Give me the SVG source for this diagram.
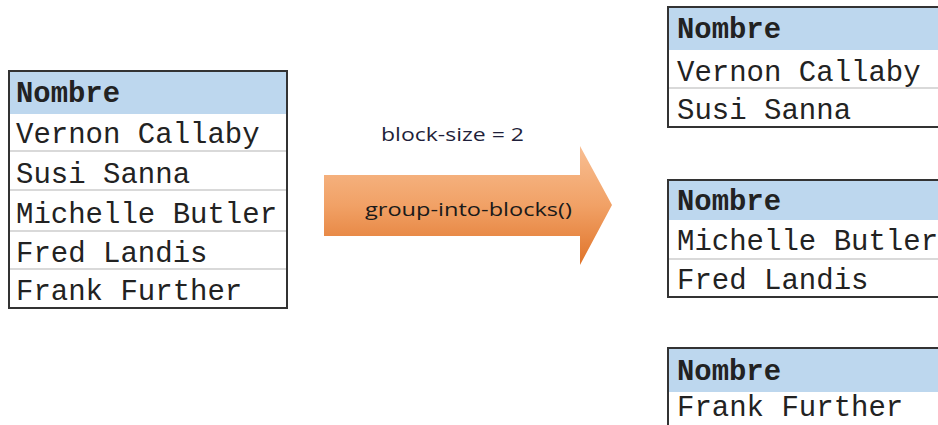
<svg xmlns="http://www.w3.org/2000/svg" width="938" height="425" viewBox="0 0 938 425">
<defs>
<style>
.frame{fill:#ffffff;stroke:#333333;stroke-width:2}
.hdr{fill:#BDD7EE}
.sep{stroke:#d9d9d9;stroke-width:2}
.mono{font-family:"Liberation Mono","Courier New",monospace;font-size:29px;fill:#222222}
.bold{font-weight:bold}
.lbl{font-family:"Open Sans","Liberation Sans",sans-serif;font-size:19px}
</style>
<linearGradient id="og" x1="0" y1="0" x2="0" y2="1">
<stop offset="0" stop-color="#F8BE92"/>
<stop offset="0.5" stop-color="#F1A166"/>
<stop offset="1" stop-color="#E0742A"/>
</linearGradient>
</defs>
<rect width="938" height="425" fill="#ffffff"/>

<g id="table-input">
<rect class="frame" x="9" y="71" width="278" height="237"/>
<rect class="hdr" x="10" y="72" width="276" height="42"/>
<line class="sep" x1="10" y1="151" x2="286" y2="151"/>
<line class="sep" x1="10" y1="190" x2="286" y2="190"/>
<line class="sep" x1="10" y1="231" x2="286" y2="231"/>
<line class="sep" x1="10" y1="269" x2="286" y2="269"/>
<text class="mono bold" x="16" y="102" textLength="104" lengthAdjust="spacingAndGlyphs">Nombre</text>
<text class="mono" x="16" y="143">Vernon Callaby</text>
<text class="mono" x="16" y="183">Susi Sanna</text>
<text class="mono" x="16" y="223">Michelle Butler</text>
<text class="mono" x="16" y="262">Fred Landis</text>
<text class="mono" x="16" y="300">Frank Further</text>
</g>

<g id="connectors">
<path d="M324,175 L580,175 L580,146 L612,205 L580,265 L580,236 L324,236 Z" fill="url(#og)"/>
<text class="lbl" x="381" y="141" fill="#1f1f3a" textLength="143" lengthAdjust="spacingAndGlyphs">block-size = 2</text>
<text class="lbl" x="365" y="216" fill="#1a1a1a" textLength="207" lengthAdjust="spacingAndGlyphs">group-into-blocks()</text>
</g>

<g id="block-1">
<rect class="frame" x="668" y="7" width="290" height="120"/>
<rect class="hdr" x="669" y="8" width="280" height="42"/>
<line class="sep" x1="669" y1="88" x2="938" y2="88"/>
<text class="mono bold" x="677" y="38" textLength="104" lengthAdjust="spacingAndGlyphs">Nombre</text>
<text class="mono" x="677" y="81">Vernon Callaby</text>
<text class="mono" x="677" y="119">Susi Sanna</text>
</g>

<g id="block-2">
<rect class="frame" x="668" y="180" width="290" height="117"/>
<rect class="hdr" x="669" y="181" width="280" height="39"/>
<line class="sep" x1="669" y1="259" x2="938" y2="259"/>
<text class="mono bold" x="677" y="210" textLength="104" lengthAdjust="spacingAndGlyphs">Nombre</text>
<text class="mono" x="677" y="250">Michelle Butler</text>
<text class="mono" x="677" y="289">Fred Landis</text>
</g>

<g id="block-3">
<rect class="frame" x="668" y="348" width="290" height="100"/>
<rect class="hdr" x="669" y="349" width="280" height="43"/>
<text class="mono bold" x="677" y="380" textLength="104" lengthAdjust="spacingAndGlyphs">Nombre</text>
<text class="mono" x="677" y="416">Frank Further</text>
</g>
</svg>
